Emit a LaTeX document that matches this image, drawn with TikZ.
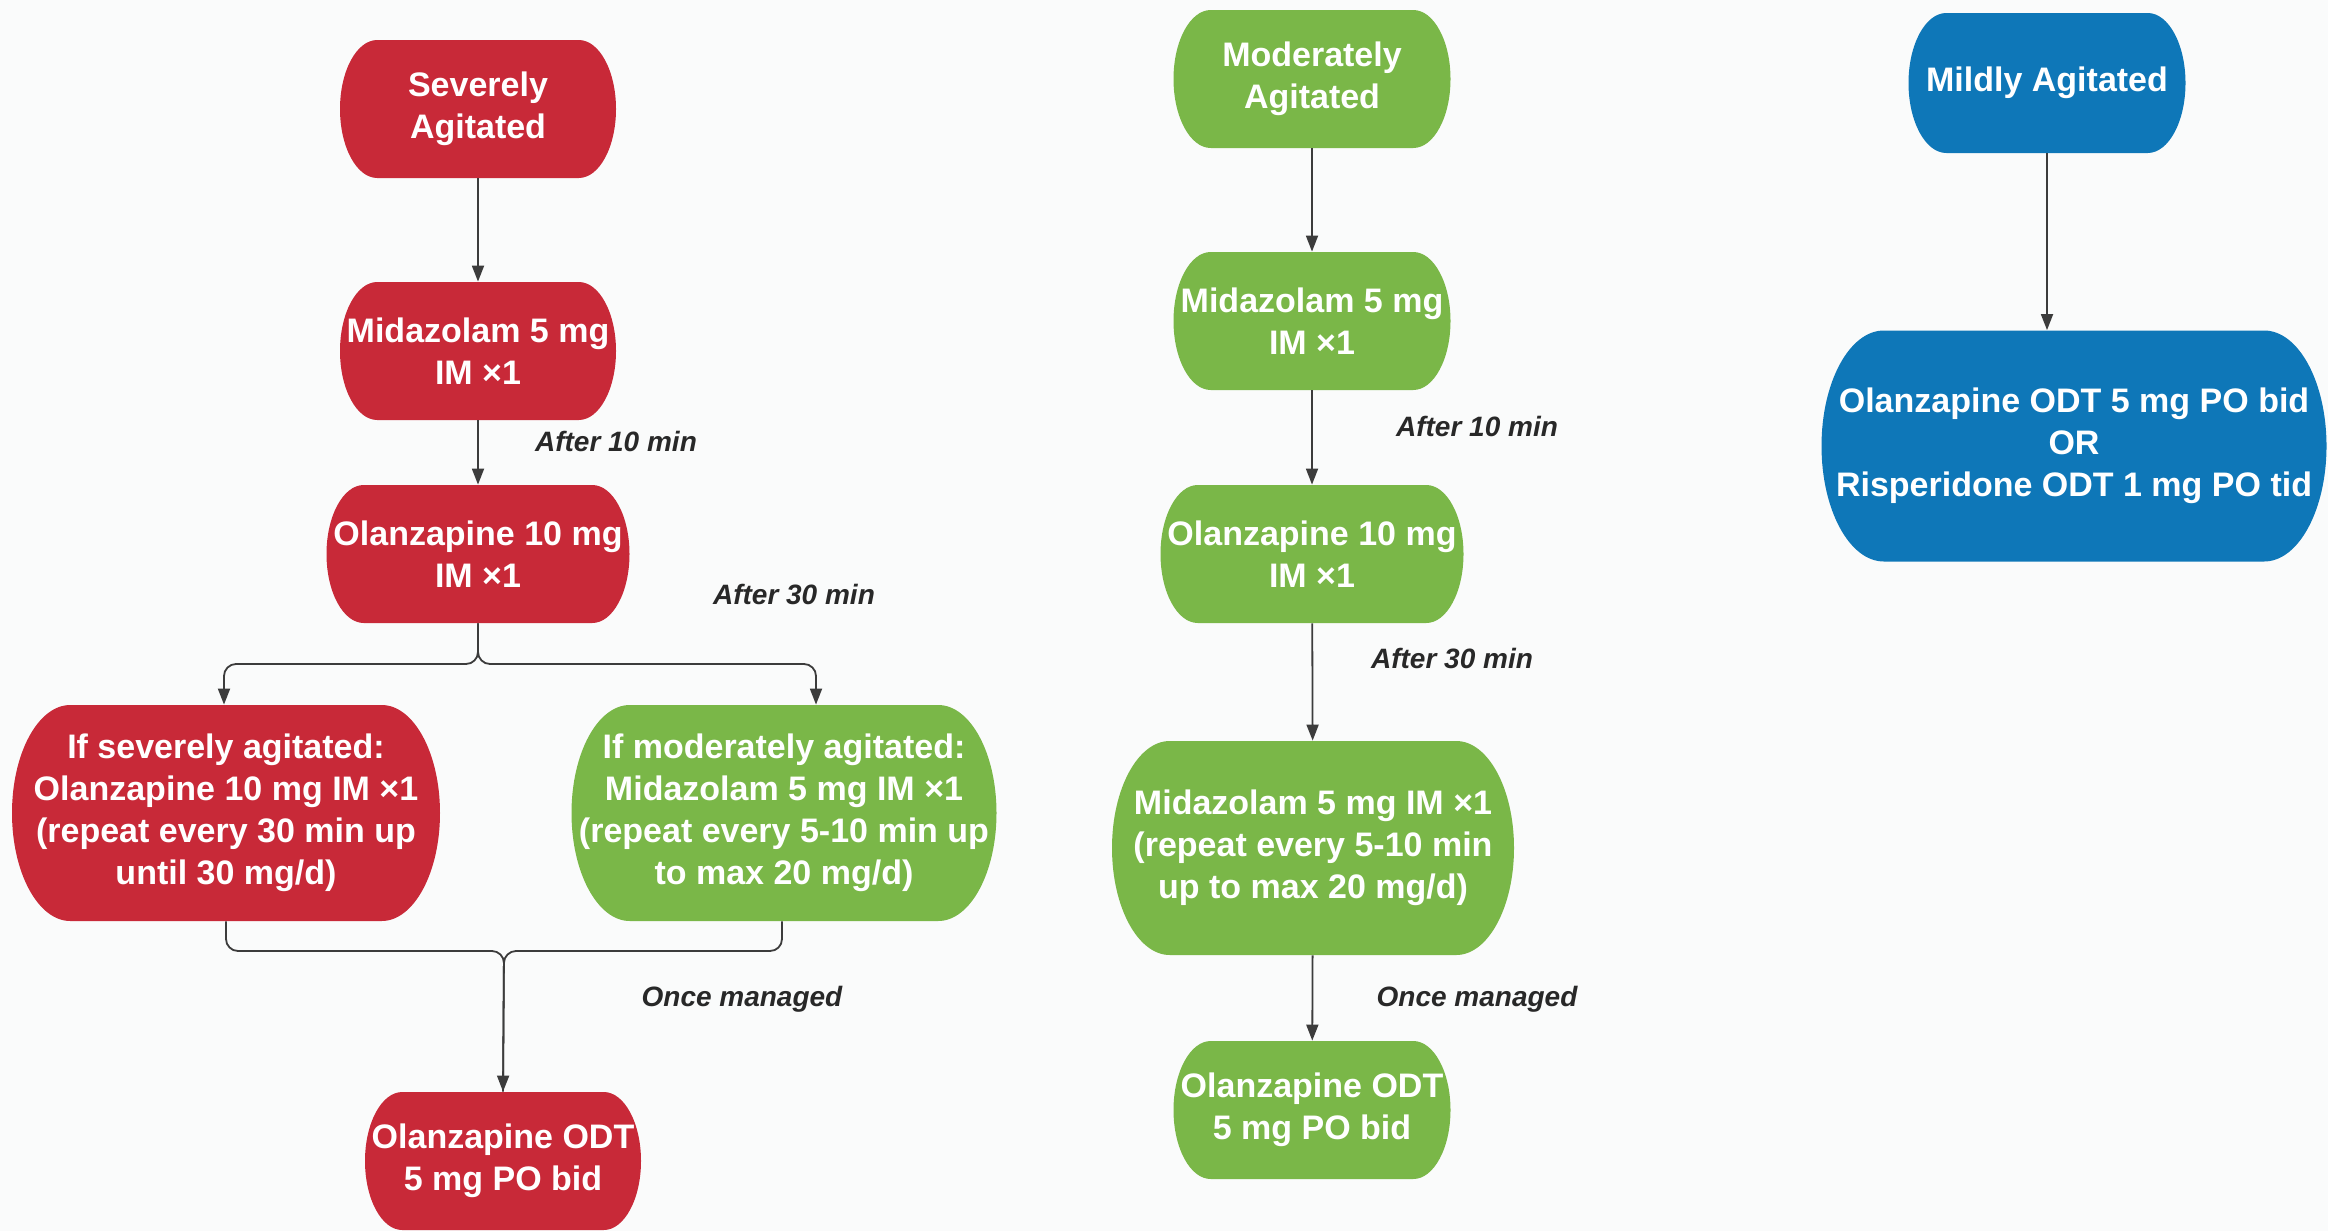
\documentclass[tikz,border=0pt]{standalone}
\usepackage{fontspec}
\setmainfont{Liberation Sans}
\usetikzlibrary{arrows.meta}
\definecolor{bgc}{RGB}{250,251,251}
\definecolor{redc}{RGB}{200,41,56}
\definecolor{greenc}{RGB}{122,183,72}
\definecolor{bluec}{RGB}{14,119,184}
\definecolor{linec}{RGB}{60,60,60}
\definecolor{labc}{RGB}{40,40,40}
\newcommand\tbox[7]{%
  \pgfmathsetmacro\tbxa{#2-#4/2}%
  \pgfmathsetmacro\tbxb{#2+#4/2}%
  \pgfmathsetmacro\tbya{#3-#5/2}%
  \pgfmathsetmacro\tbyb{#3+#5/2}%
  \pgfmathsetmacro\tbrx{0.27*#5}%
  \pgfmathsetmacro\tbk{0.5523}%
  \fill[#6] (\tbxa+\tbrx,\tbya) -- (\tbxb-\tbrx,\tbya)
    .. controls (\tbxb-\tbrx+\tbk*\tbrx,\tbya) and (\tbxb,#3-\tbk*#5/2) .. (\tbxb,#3)
    .. controls (\tbxb,#3+\tbk*#5/2) and (\tbxb-\tbrx+\tbk*\tbrx,\tbyb) .. (\tbxb-\tbrx,\tbyb)
    -- (\tbxa+\tbrx,\tbyb)
    .. controls (\tbxa+\tbrx-\tbk*\tbrx,\tbyb) and (\tbxa,#3+\tbk*#5/2) .. (\tbxa,#3)
    .. controls (\tbxa,#3-\tbk*#5/2) and (\tbxa+\tbrx-\tbk*\tbrx,\tbya) .. (\tbxa+\tbrx,\tbya) -- cycle;
  \node[boxtext, minimum width=#4*0.5pt, minimum height=#5*0.5pt] (#1) at (#2,#3) {#7};
}
\tikzset{
  boxtext/.style={inner sep=0pt, align=center, text=white,
    font=\fontsize{17}{21}\selectfont\bfseries},
  conn/.style={draw=linec, line width=0.9pt, -{Triangle[length=8pt,width=6pt]}},
  plainconn/.style={draw=linec, line width=0.9pt},
  lab/.style={inner sep=0pt, text=labc, font=\fontsize{14}{16}\selectfont\bfseries\itshape}
}
\begin{document}
\begin{tikzpicture}[x=0.5pt,y=-0.5pt]
\fill[bgc] (0,0) rectangle (2328,1231);
\useasboundingbox (0,0) rectangle (2328,1231);
% red column
\tbox{sev}{478}{109}{276}{138}{redc}{Severely\\Agitated}
\tbox{mida}{478}{351}{276}{138}{redc}{Midazolam 5 mg\\IM ×1}
\tbox{olza}{478}{554}{303}{138}{redc}{Olanzapine 10 mg\\IM ×1}
\tbox{ifsev}{226}{813}{428}{216}{redc}{If severely agitated:\\Olanzapine 10 mg IM ×1\\(repeat every 30 min up\\until 30 mg/d)}
\tbox{ifmod}{784}{813}{425}{216}{greenc}{If moderately agitated:\\Midazolam 5 mg IM ×1\\(repeat every 5-10 min up\\to max 20 mg/d)}
\tbox{fina}{503}{1161}{276}{138}{redc}{Olanzapine ODT\\5 mg PO bid}
% green column
\tbox{mod}{1312}{79}{277}{138}{greenc}{Moderately\\Agitated}
\tbox{midb}{1312}{321}{277}{138}{greenc}{Midazolam 5 mg\\IM ×1}
\tbox{olzb}{1312}{554}{303}{138}{greenc}{Olanzapine 10 mg\\IM ×1}
\tbox{midc}{1313}{848}{402}{214}{greenc}{Midazolam 5 mg IM ×1\\(repeat every 5-10 min\\up to max 20 mg/d)}
\tbox{finb}{1312}{1110}{277}{138}{greenc}{Olanzapine ODT\\5 mg PO bid}
% blue column
\tbox{mild}{2047}{83}{277}{140}{bluec}{Mildly Agitated}
\tbox{mildout}{2074}{446}{505}{231}{bluec}{Olanzapine ODT 5 mg PO bid\\OR\\Risperidone ODT 1 mg PO tid}
% connectors
\coordinate (split) at (478,664);
\coordinate (merge) at (504,951);
\draw[conn] (sev) -- (mida);
\draw[conn] (mida) -- (olza);
\draw[conn, rounded corners=6pt] (olza.south) -- (split) -| ([xshift=-1pt]ifsev.north);
\draw[conn, rounded corners=6pt] (olza.south) -- (split) -| ([xshift=16pt]ifmod.north);
\draw[plainconn, rounded corners=6pt] ([xshift=-1pt]ifmod.south) |- (merge) -- (fina.north);
\draw[conn, rounded corners=6pt] (ifsev.south) |- (merge) -- (fina.north);
\draw[conn] (mod) -- (midb);
\draw[conn] (midb) -- (olzb);
\draw[conn] (olzb) -- (midc);
\draw[conn] (midc) -- (finb);
\draw[conn] (mild.south) -- (mildout.north -| mild.south);
% labels
\node[lab] (l1) at (616,441) {After 10 min};
\node[lab] (l2) at (794,594) {After 30 min};
\node[lab] (l3) at (742,999) {Once managed};
\node[lab] (l4) at (1477,426) {After 10 min};
\node[lab] (l5) at (1452,658) {After 30 min};
\node[lab] (l6) at (1477,999) {Once managed};
\end{tikzpicture}
\end{document}
